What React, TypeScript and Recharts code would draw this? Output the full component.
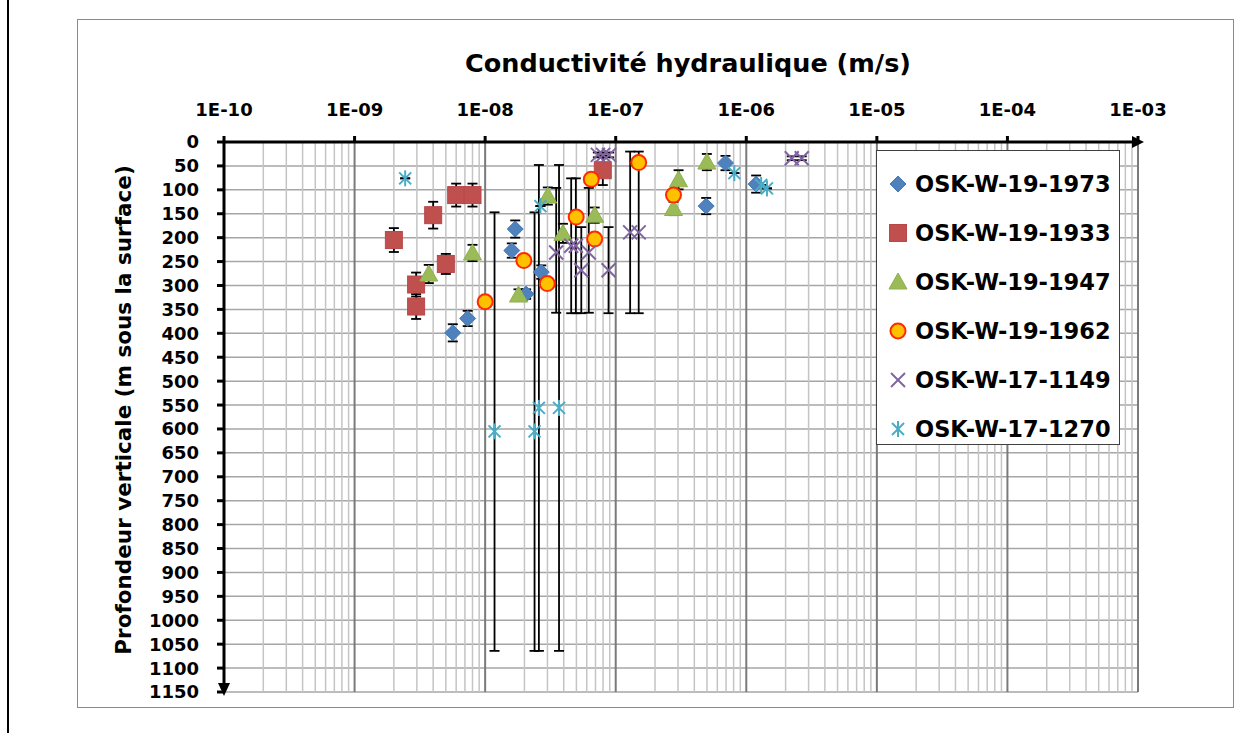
import React from 'react';
import {
  ScatterChart,
  Scatter,
  XAxis,
  YAxis,
  CartesianGrid,
  ReferenceLine,
  ReferenceDot,
  ErrorBar,
  Legend,
} from 'recharts';

const FONT = '"DejaVu Sans", "Open Sans", sans-serif';

// ---- axes ----
const xTicks = [1e-10, 1e-9, 1e-8, 1e-7, 1e-6, 1e-5, 1e-4, 1e-3];
const xTickLabels = ['1E-10', '1E-09', '1E-08', '1E-07', '1E-06', '1E-05', '1E-04', '1E-03'];
const minorMultipliers = [2, 3, 4, 5, 6, 7, 8, 9];
const yTicks = [
  0, 50, 100, 150, 200, 250, 300, 350, 400, 450, 500, 550, 600, 650, 700, 750, 800, 850, 900, 950, 1000,
  1050, 1100, 1150,
];

// ---- series (K in m/s, depth in m, error [minus, plus] in m) ----
const k1973 = [5.65e-9, 7.35e-9, 1.7e-8, 1.6e-8, 2.06e-8, 2.69e-8, 4.93e-7, 6.93e-7, 1.19e-6];
const d1973 = [399, 369, 182, 227, 318, 272, 134, 44, 88];
const e1973 = [[18, 18], [16, 16], [18, 18], [15, 15], [10, 10], [14, 14], [17, 17], [15, 15], [18, 18]];

const k1933 = [2.0e-9, 2.96e-9, 2.96e-9, 4.0e-9, 5.0e-9, 6.0e-9, 8.0e-9, 7.96e-8];
const d1933 = [205, 298, 344, 153, 255, 111, 111, 59];
const e1933 = [[25, 25], [25, 25], [26, 26], [28, 28], [21, 21], [24, 24], [24, 24], [31, 31]];

const k1947 = [3.7e-9, 8.0e-9, 1.8e-8, 3.02e-8, 3.94e-8, 6.9e-8, 2.77e-7, 3.03e-7, 4.99e-7];
const d1947 = [276, 232, 320, 113, 191, 153, 139, 79, 42];
const e1947 = [[19, 19], [17, 17], [12, 12], [18, 18], [20, 20], [16, 16], [14, 14], [20, 20], [17, 17]];

const k1962 = [1.0e-8, 1.98e-8, 2.99e-8, 4.98e-8, 6.5e-8, 6.9e-8, 1.5e-7, 2.77e-7];
const d1962 = [334, 248, 296, 157, 78, 203, 43, 111];
const e1962 = [[6, 6], [6, 6], [6, 6], [6, 6], [6, 6], [6, 6], [6, 6], [6, 6]];

const k1149 = [7.3e-8, 8.0e-8, 8.9e-8, 3.5e-8, 4.56e-8, 4.95e-8, 5.45e-8, 6.22e-8, 8.81e-8, 1.29e-7, 1.5e-7, 2.23e-6, 2.66e-6];
const d1149 = [27, 27, 27, 231, 217, 217, 268, 231, 268, 189, 189, 34, 34];
const e1149 = [
  [5, 5], [5, 5], [5, 5], [135, 126], [141, 141], [141, 141], [90, 90], [135, 126], [90, 90], [169, 169],
  [169, 169], [4, 4], [4, 4],
];

const k1270 = [2.44e-9, 1.18e-8, 2.39e-8, 2.58e-8, 3.68e-8, 2.65e-8, 8.1e-7, 1.3e-6, 1.44e-6];
const d1270 = [76, 605, 605, 556, 556, 134, 65, 90, 97];
const e1270 = [[0, 0], [458, 459], [458, 459], [508, 508], [508, 508], [0, 0], [0, 0], [0, 0], [0, 0]];

const seriesNames = ['OSK-W-19-1973', 'OSK-W-19-1933', 'OSK-W-19-1947', 'OSK-W-19-1962', 'OSK-W-17-1149', 'OSK-W-17-1270'];

const build = (k: number[], d: number[], e: number[][]) =>
  k.map((kv, i) => ({ k: kv, depth: d[i], err: e[i] }));

// ---- marker shapes ----
const Diamond = ({ cx, cy }: any) => (
  <polygon
    points={`${cx},${cy - 8} ${cx + 8},${cy} ${cx},${cy + 8} ${cx - 8},${cy}`}
    fill="#4F81BD"
    stroke="#4579B5"
    strokeWidth={1}
  />
);
const Square = ({ cx, cy }: any) => (
  <rect x={cx - 8.5} y={cy - 8.5} width={17} height={17} fill="#C0504D" stroke="#B9474A" strokeWidth={1} />
);
const Triangle = ({ cx, cy }: any) => (
  <polygon
    points={`${cx},${cy - 9} ${cx + 9},${cy + 7} ${cx - 9},${cy + 7}`}
    fill="#9BBB59"
    stroke="#8FB04F"
    strokeWidth={1}
  />
);
const Circle = ({ cx, cy }: any) => (
  <circle cx={cx} cy={cy} r={7.5} fill="#FFC000" stroke="#FF2A00" strokeWidth={2} />
);
const XMark = ({ cx, cy }: any) => (
  <g stroke="#8064A2" strokeWidth={2}>
    <line x1={cx - 7} y1={cy - 7} x2={cx + 7} y2={cy + 7} />
    <line x1={cx - 7} y1={cy + 7} x2={cx + 7} y2={cy - 7} />
  </g>
);
const Star = ({ cx, cy }: any) => (
  <g stroke="#4BACC6" strokeWidth={2}>
    <line x1={cx - 6} y1={cy - 6} x2={cx + 6} y2={cy + 6} />
    <line x1={cx - 6} y1={cy + 6} x2={cx + 6} y2={cy - 6} />
    <line x1={cx} y1={cy - 8} x2={cx} y2={cy + 8} />
  </g>
);
const NoMark = () => <g />;

const seriesShapes = [Diamond, Square, Triangle, Circle, XMark, Star];
const seriesData = [
  build(k1973, d1973, e1973),
  build(k1933, d1933, e1933),
  build(k1947, d1947, e1947),
  build(k1962, d1962, e1962),
  build(k1149, d1149, e1149),
  build(k1270, d1270, e1270),
];

// ---- ticks ----
const XTick = (props: any) => {
  const { x, y, payload } = props;
  const idx = xTicks.findIndex((t) => Math.abs(Math.log10(t) - Math.log10(payload.value)) < 1e-6);
  return (
    <text x={x} y={y - 18} textAnchor="middle" fontFamily={FONT} fontWeight="bold" fontSize={18} fill="#000">
      {xTickLabels[idx]}
    </text>
  );
};
const YTick = (props: any) => {
  const { x, y, payload } = props;
  return (
    <text x={x - 16} y={y} dy="0.36em" textAnchor="end" fontFamily={FONT} fontWeight="bold" fontSize={18} fill="#000">
      {payload.value}
    </text>
  );
};

const ArrowRight = ({ cx, cy }: any) => (
  <polygon points={`${cx + 6},${cy} ${cx - 6},${cy - 6} ${cx - 6},${cy + 6}`} fill="#000" />
);
const ArrowDown = ({ cx, cy }: any) => (
  <polygon points={`${cx},${cy + 4} ${cx - 6},${cy - 9} ${cx + 6},${cy - 9}`} fill="#000" />
);

const LegendContent = () => (
  <div
    style={{
      width: 244,
      height: 295,
      boxSizing: 'border-box',
      border: '1.5px solid #404040',
      background: '#fff',
      paddingTop: 8,
    }}
  >
    {seriesNames.map((name, i) => {
      const Shape = seriesShapes[i];
      return (
        <div key={name} style={{ display: 'flex', alignItems: 'center', height: 49 }}>
          <svg width={38} height={30} style={{ flex: 'none' }}>
            <Shape cx={21} cy={15} />
          </svg>
          <span style={{ fontFamily: FONT, fontWeight: 'bold', fontSize: 22.5, color: '#000', whiteSpace: 'nowrap' }}>
            {name}
          </span>
        </div>
      );
    })}
  </div>
);

export default function App() {
  const minorGrid = xTicks.slice(0, -1).flatMap((d) => minorMultipliers.map((m) => m * d));
  return (
    <div style={{ position: 'absolute', left: 0, top: 0, width: 1248, height: 733, background: '#fff', overflow: 'hidden' }}>
      <div style={{ position: 'absolute', left: 7, top: 0, width: 2, height: 733, background: '#000' }} />
      <div
        style={{
          position: 'absolute',
          left: 77,
          top: 19,
          width: 1157,
          height: 689,
          boxSizing: 'border-box',
          border: '1.5px solid #8a8a8a',
        }}
      />
      <div
        style={{
          position: 'absolute',
          left: 688,
          top: 51,
          transform: 'translateX(-50%)',
          fontFamily: FONT,
          fontWeight: 'bold',
          fontSize: 25.5,
          lineHeight: 1,
          whiteSpace: 'nowrap',
          color: '#000',
        }}
      >
        Conductivité hydraulique (m/s)
      </div>
      <div
        style={{
          position: 'absolute',
          left: 124,
          top: 410,
          transform: 'translate(-50%, -50%) rotate(-90deg)',
          fontFamily: FONT,
          fontWeight: 'bold',
          fontSize: 21.5,
          lineHeight: 1,
          whiteSpace: 'nowrap',
          color: '#000',
        }}
      >
        Profondeur verticale (m sous la surface)
      </div>
      <div style={{ position: 'absolute', left: 0, top: 0 }}>
        <ScatterChart width={1248} height={733} margin={{ top: 102, right: 110, bottom: 41, left: 164 }}>
          <CartesianGrid vertical={false} stroke="#A6A6A6" strokeWidth={1.5} />
          {minorGrid.map((v) => (
            <ReferenceLine key={'m' + v} x={v} stroke="#C4C4C4" strokeWidth={1.5} ifOverflow="visible" />
          ))}
          {xTicks.map((v) => (
            <ReferenceLine key={'M' + v} x={v} stroke="#7A7A7A" strokeWidth={2} ifOverflow="visible" />
          ))}
          <XAxis
            xAxisId={0}
            dataKey="k"
            type="number"
            scale="log"
            orientation="top"
            domain={[1e-10, 1e-3]}
            ticks={xTicks}
            interval={0}
            allowDataOverflow
            height={40}
            tickSize={6}
            tickLine={{ stroke: '#000', strokeWidth: 3 }}
            axisLine={{ stroke: '#000', strokeWidth: 3 }}
            tick={<XTick />}
          />
          <YAxis
            yAxisId={0}
            dataKey="depth"
            type="number"
            domain={[0, 1150]}
            reversed
            ticks={yTicks}
            interval={0}
            allowDataOverflow
            width={60}
            tickSize={7}
            tickLine={{ stroke: '#000', strokeWidth: 3 }}
            axisLine={{ stroke: '#000', strokeWidth: 3 }}
            tick={<YTick />}
          />
          {seriesData.map((data, i) => (
            <Scatter
              key={'err-' + seriesNames[i]}
              name={seriesNames[i] + ' (erreur)'}
              data={data}
              shape={NoMark as any}
              legendType="none"
              isAnimationActive={false}
            >
              <ErrorBar dataKey="err" direction="y" width={5} stroke="#000" strokeWidth={1.8} />
            </Scatter>
          ))}
          {seriesData.map((data, i) => (
            <Scatter
              key={seriesNames[i]}
              name={seriesNames[i]}
              data={data}
              shape={seriesShapes[i] as any}
              isAnimationActive={false}
            />
          ))}
          <ReferenceDot x={1e-3} y={0} shape={ArrowRight as any} ifOverflow="visible" />
          <ReferenceDot x={1e-10} y={1150} shape={ArrowDown as any} ifOverflow="visible" />
          <Legend
            layout="vertical"
            align="center"
            verticalAlign="middle"
            content={<LegendContent />}
            wrapperStyle={{ left: 876, top: 150, width: 244, height: 295 }}
          />
        </ScatterChart>
      </div>
    </div>
  );
}
